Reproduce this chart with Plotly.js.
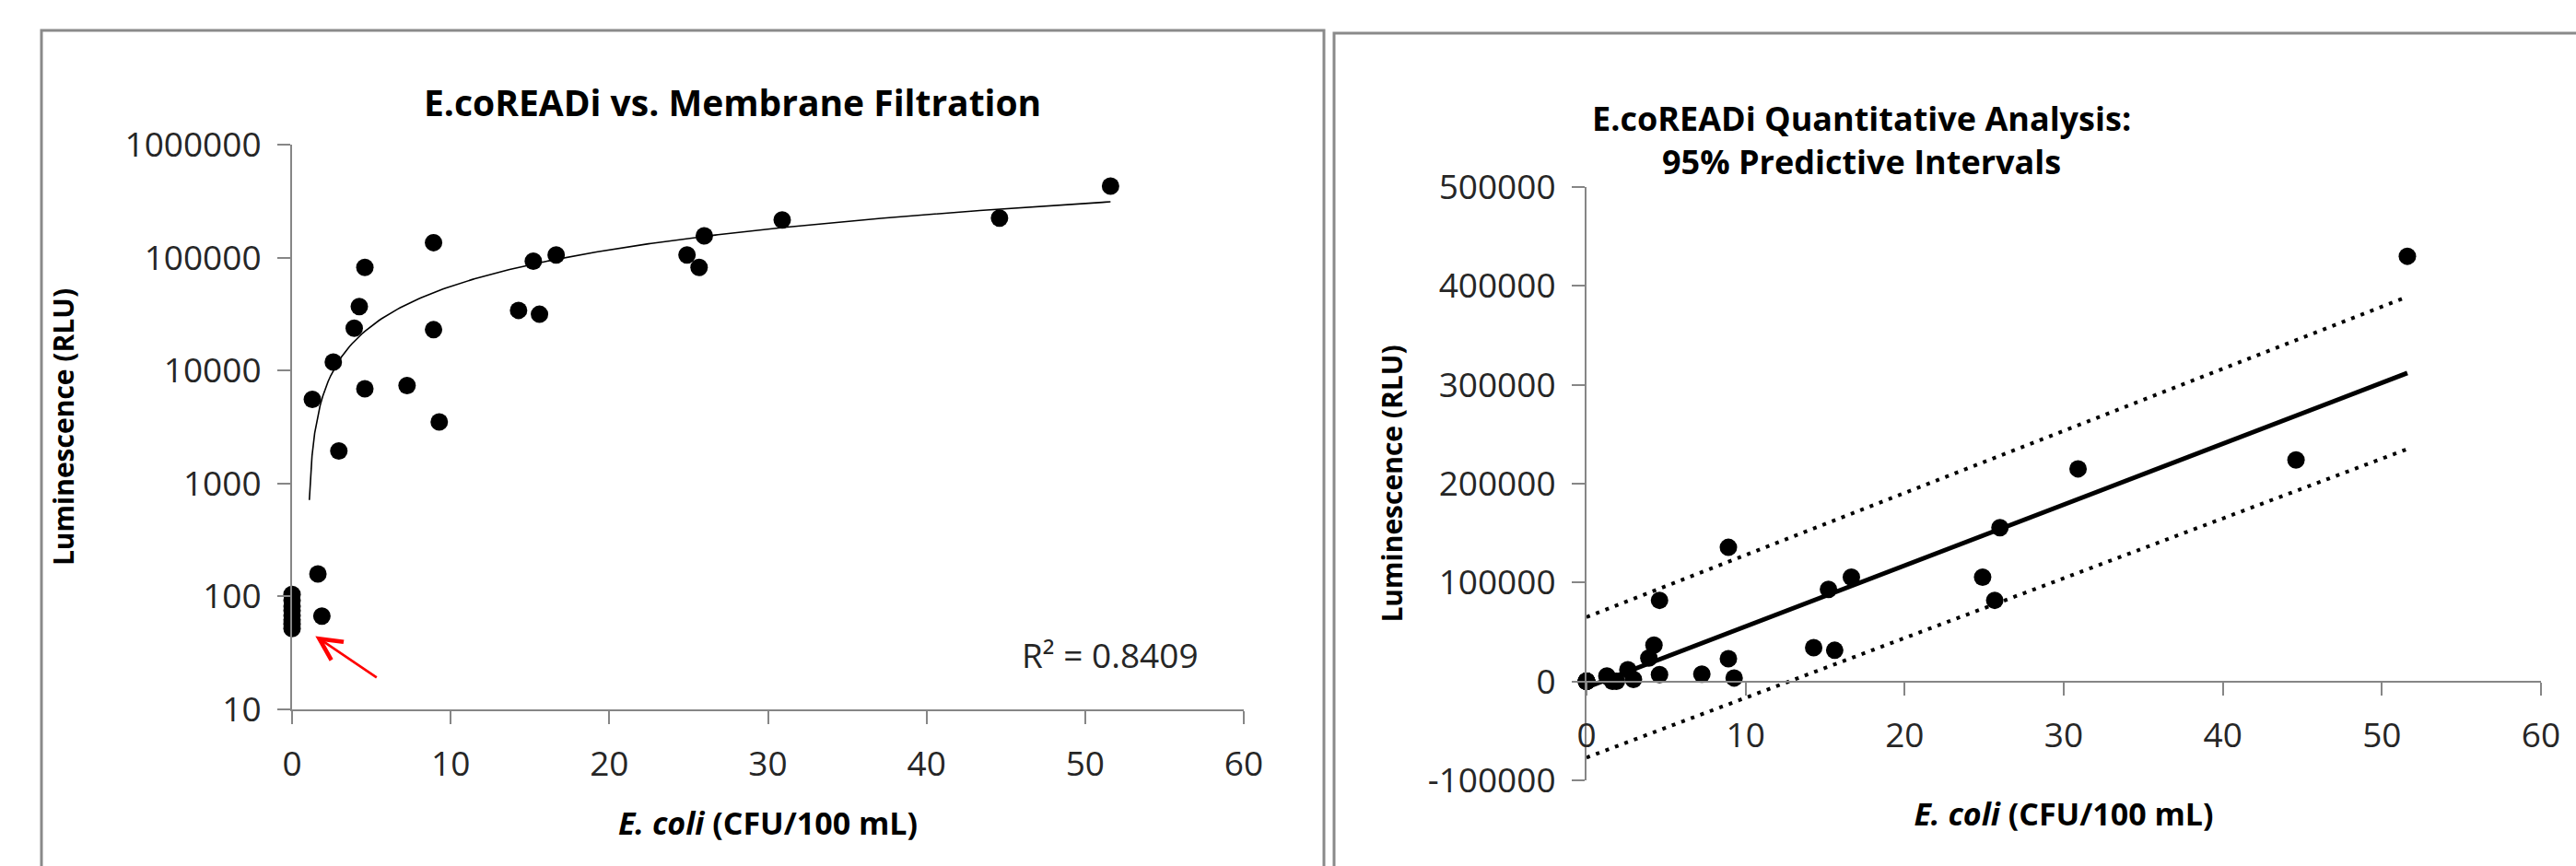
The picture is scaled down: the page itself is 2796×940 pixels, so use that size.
<!DOCTYPE html>
<html>
<head>
<meta charset="utf-8">
<script src="https://cdn.plot.ly/plotly-3.0.1.min.js"></script>
<style>
  html, body { margin: 0; padding: 0; background: #ffffff; }
  #chart { width: 2796px; height: 940px; }
</style>
</head>
<body>
<div id="chart"></div>
<script>
// ---------------- data ----------------
const ecoliCFU = [0, 0, 0, 0, 0, 0, 0, 0, 1.63, 1.88, 1.28, 2.6, 2.95, 3.92, 4.24, 4.59, 4.59, 7.25, 8.92, 8.92, 9.28, 14.28, 15.21, 15.6, 16.65, 24.9, 25.66, 25.99, 30.9, 44.6, 51.6];
const luminescenceRLU = [52, 57, 62, 68, 75, 82, 92, 104, 158, 67, 5550, 11900, 1940, 23700, 36800, 82000, 6900, 7360, 135600, 23000, 3510, 34100, 93100, 31500, 105400, 105400, 82000, 155600, 215000, 224000, 430000];

// linear trendline (drawn curved on the log axis)
const trendSlope = 6160;
const trendIntercept = -6000;
const trendStartX = 1.09;
const trendEndX = 51.6;
const rSquaredLabel = 'R\u00B2 = 0.8409';

// 95% prediction interval lines (right chart)
const piX = [0, 51.6];
const piUpper = [65000, 389000];
const piLower = [-77000, 235000];

// axis ticks
const logTickVals = [10, 100, 1000, 10000, 100000, 1000000];
const logTickText = ['10', '100', '1000', '10000', '100000', '1000000'];
const xTickVals = [0, 10, 20, 30, 40, 50, 60];
const linTickVals = [-100000, 0, 100000, 200000, 300000, 400000, 500000];
const linTickText = ['-100000', '0', '100000', '200000', '300000', '400000', '500000'];

// ---------------- helpers (pixel -> paper) ----------------
const W = 2796, H = 940;
const fx = px => px / W;
const fy = py => 1 - py / H;

const FONT = 'Open Sans, Noto Sans, sans-serif';
const AXIS_GRAY = '#868686';
const TICK_FONT = { family: FONT, size: 37, color: '#262626' };

// trend samples for the log chart
const trendX = [];
const trendY = [];
const nSamp = 300;
for (let i = 0; i <= nSamp; i++) {
  const x = trendStartX + (trendEndX - trendStartX) * i / nSamp;
  trendX.push(x);
  trendY.push(trendSlope * x + trendIntercept);
}
const lineX = [0, trendEndX];
const lineY = lineX.map(x => trendSlope * x + trendIntercept);

// domains
const L = { x0: 317, x1: 1350, yTop: 157, yBot: 770 };
const R = { x0: 1722, x1: 2758, yTop: 203, yBot: 847 };
const rDomY = [fy(R.yBot), fy(R.yTop)];
const zeroPos = rDomY[0] + (0 - (-100000)) / 600000 * (rDomY[1] - rDomY[0]);

const traces = [
  { x: trendX, y: trendY, xaxis: 'x', yaxis: 'y', mode: 'lines',
    line: { color: '#000000', width: 1.6 }, hoverinfo: 'skip' },
  { x: ecoliCFU, y: luminescenceRLU, xaxis: 'x', yaxis: 'y', mode: 'markers',
    marker: { color: '#000000', size: 19 }, cliponaxis: false },

  { x: piX, y: piUpper, xaxis: 'x2', yaxis: 'y2', mode: 'lines',
    line: { color: '#000000', width: 4, dash: '4px,7px' } },
  { x: piX, y: piLower, xaxis: 'x2', yaxis: 'y2', mode: 'lines',
    line: { color: '#000000', width: 4, dash: '4px,7px' } },
  { x: lineX, y: lineY, xaxis: 'x2', yaxis: 'y2', mode: 'lines',
    line: { color: '#000000', width: 5 } },
  { x: ecoliCFU, y: luminescenceRLU, xaxis: 'x2', yaxis: 'y2', mode: 'markers',
    marker: { color: '#000000', size: 19 }, cliponaxis: false }
];

const axisCommon = {
  showgrid: false, zeroline: false, showline: true,
  linecolor: AXIS_GRAY, linewidth: 2,
  ticks: 'outside', ticklen: 14, tickwidth: 2, tickcolor: AXIS_GRAY,
  tickfont: TICK_FONT
};

const xTitleText = '<b><i>E. coli</i> (CFU/100 mL)</b>';
const yTitleText = '<b>Luminescence (RLU)</b>';
const xTitleFont = { family: FONT, size: 34, color: '#000000' };
const yTitleFont = { family: FONT, size: 30, color: '#000000' };

const layout = {
  width: W, height: H,
  margin: { l: 0, r: 0, t: 0, b: 0 },
  paper_bgcolor: '#ffffff', plot_bgcolor: 'rgba(0,0,0,0)',
  showlegend: false,
  xaxis: Object.assign({}, axisCommon, {
    domain: [fx(L.x0), fx(L.x1)], range: [0, 60], tickvals: xTickVals,
    anchor: 'y', ticklabelstandoff: 12,
    title: { text: xTitleText, font: xTitleFont, standoff: 30 }
  }),
  yaxis: Object.assign({}, axisCommon, {
    domain: [fy(L.yBot), fy(L.yTop)], type: 'log', range: [1, 6],
    tickvals: logTickVals, ticktext: logTickText, anchor: 'x', ticklabelstandoff: 10,
    title: { text: yTitleText, font: yTitleFont, standoff: 46 }
  }),
  xaxis2: Object.assign({}, axisCommon, {
    domain: [fx(R.x0), fx(R.x1)], range: [0, 60], tickvals: xTickVals,
    anchor: 'free', position: zeroPos, ticklabelstandoff: 12,
    title: { text: xTitleText, font: xTitleFont, standoff: 50 }
  }),
  yaxis2: Object.assign({}, axisCommon, {
    domain: rDomY, range: [-100000, 500000],
    tickvals: linTickVals, ticktext: linTickText, anchor: 'x2', ticklabelstandoff: 10,
    title: { text: yTitleText, font: yTitleFont, standoff: 18 }
  }),
  annotations: [
    { xref: 'paper', yref: 'paper', x: fx(795), y: fy(110), showarrow: false,
      text: '<b>E.coREADi vs. Membrane Filtration</b>',
      font: { family: FONT, size: 39, color: '#000000' }, xanchor: 'center', yanchor: 'middle' },
    { xref: 'paper', yref: 'paper', x: fx(2020), y: fy(152), showarrow: false,
      text: '<b>E.coREADi Quantitative Analysis:<br>95% Predictive Intervals</b>',
      font: { family: FONT, size: 36, color: '#000000' }, xanchor: 'center', yanchor: 'middle' },
    { xref: 'paper', yref: 'paper', x: fx(1205), y: fy(710), showarrow: false,
      text: rSquaredLabel, font: TICK_FONT, xanchor: 'center', yanchor: 'middle' },
    { xref: 'x', yref: 'y', x: 1.47, y: Math.log10(44.6), showarrow: true,
      ax: 68, ay: 46, arrowcolor: '#ff0000', arrowwidth: 2.6, arrowhead: 5, arrowsize: 1.8, text: '' }
  ],
  shapes: [
    { type: 'rect', xref: 'paper', yref: 'paper', x0: fx(45), x1: fx(1437), y0: fy(33), y1: -0.2,
      line: { color: '#8a8a8a', width: 3 }, fillcolor: 'rgba(0,0,0,0)', layer: 'below' },
    { type: 'rect', xref: 'paper', yref: 'paper', x0: fx(1448), x1: 1.2, y0: fy(36), y1: -0.2,
      line: { color: '#8a8a8a', width: 3 }, fillcolor: 'rgba(0,0,0,0)', layer: 'below' }
  ]
};

Plotly.newPlot('chart', traces, layout, { staticPlot: true, displayModeBar: false });
</script>
</body>
</html>
